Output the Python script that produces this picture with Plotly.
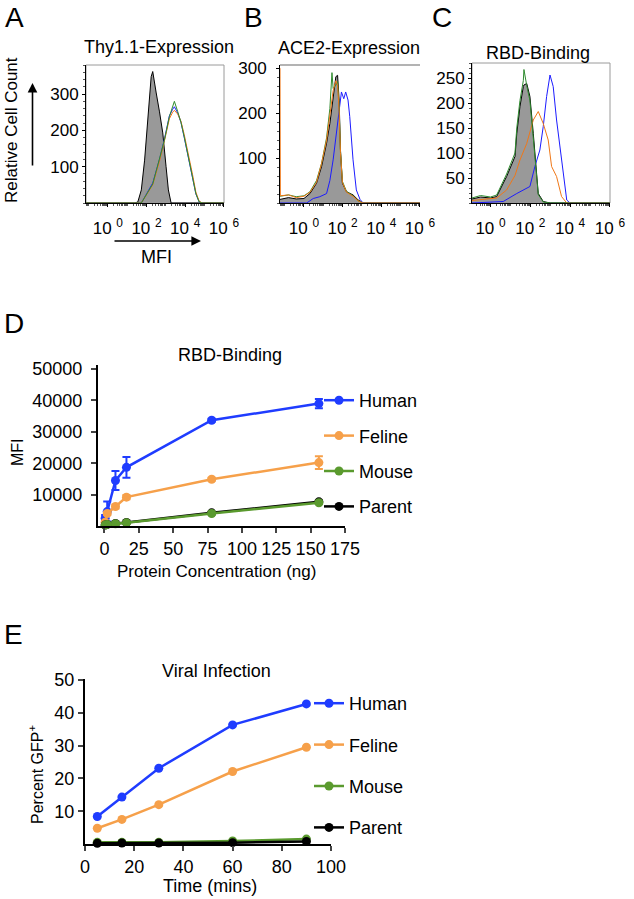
import math
import plotly.graph_objects as go

FONT = "Liberation Sans, Arial, Helvetica, sans-serif"
W, H = 634, 899


def fx(x):
    return x / W


def fy(y):
    return 1 - y / H


# ---------------- colours ----------------
H_BLUE = "#1c1cff"
H_ORANGE = "#f07818"
H_GREEN = "#2e8b2e"
H_FILL = "#999999"
L_BLUE = "#1f3cff"
L_ORANGE = "#f6a04a"
L_GREEN = "#5a9a2e"

# ---------------- Panel A : Thy1.1 expression (log10 MFI vs count) ----------------
A_parent_logmfi = [-1.13, 1.40, 1.55, 1.73, 1.90, 2.07, 2.24, 2.32, 2.40, 2.50, 2.67, 2.84, 3.01, 3.13, 3.27, 6.0]
A_parent_count = [0, 0, 3, 36, 118, 238, 348, 362, 330, 303, 251, 193, 100, 36, 0, 0]
A_logmfi = [-1.13, 1.73, 2.32, 2.67, 2.92, 3.18, 3.35, 3.44, 3.61, 3.78, 3.95, 4.21, 4.38, 4.55, 4.72, 4.89, 6.0]
A_human = [0, 0, 55, 120, 175, 240, 258, 265, 248, 222, 180, 115, 70, 25, 3, 0, 0]
A_feline = [0, 0, 50, 115, 170, 232, 250, 255, 245, 225, 188, 125, 78, 30, 5, 0, 0]
A_mouse = [0, 0, 52, 118, 172, 238, 270, 280, 252, 222, 182, 118, 72, 26, 3, 0, 0]

# ---------------- Panel B : ACE2 expression ----------------
B_logmfi = [-1.24, -0.8, -0.4, 0.0, 0.31, 0.65, 0.91, 1.17, 1.34, 1.45, 1.51, 1.65, 1.74, 1.82, 1.89, 1.99, 2.2, 2.54, 2.8, 3.06, 6.0]
B_parent = [8, 12, 9, 10, 21, 44, 81, 133, 177, 215, 244, 281, 284, 229, 118, 44, 25, 18, 7, 0, 0]
B_mouse = [15, 18, 14, 16, 25, 50, 88, 145, 210, 290, 255, 262, 270, 215, 115, 48, 26, 16, 5, 0, 0]
B_feline_logmfi = [-1.24, -1.22, -0.8, -0.4, 0.0, 0.31, 0.65, 0.91, 1.17, 1.34, 1.45, 1.51, 1.65, 1.74, 1.82, 1.89, 1.99, 2.2, 2.54, 2.8, 3.06, 6.0]
B_feline = [300, 16, 18, 12, 15, 24, 46, 88, 140, 200, 235, 250, 272, 262, 205, 112, 46, 24, 15, 5, 0, 0]
B_human_logmfi = [-1.24, 0.14, 0.48, 0.82, 1.17, 1.34, 1.51, 1.69, 1.86, 1.94, 2.06, 2.16, 2.28, 2.37, 2.54, 2.71, 2.9, 3.06, 6.0]
B_human = [0, 0, 10, 14, 21, 50, 96, 162, 221, 247, 232, 247, 229, 192, 96, 29, 8, 0, 0]

# ---------------- Panel C : RBD binding histogram ----------------
C_logmfi = [-0.93, -0.5, 0.0, 0.31, 0.81, 1.23, 1.32, 1.48, 1.65, 1.68, 1.82, 1.98, 2.15, 2.28, 2.40, 2.65, 3.0, 6.0]
C_parent = [8, 12, 10, 13, 53, 93, 139, 193, 233, 236, 239, 213, 139, 73, 19, 3, 0, 0]
C_mouse = [10, 15, 12, 16, 58, 100, 150, 205, 245, 267, 235, 205, 130, 65, 17, 2, 0, 0]
C_feline_logmfi = [-0.93, 0.31, 0.81, 1.23, 1.48, 1.82, 2.15, 2.40, 2.65, 2.90, 3.07, 3.32, 3.57, 3.83, 6.0]
C_feline = [5, 10, 26, 55, 86, 119, 166, 183, 159, 126, 73, 53, 13, 0, 0]
C_human_logmfi = [-0.93, 0.64, 1.32, 1.98, 2.23, 2.48, 2.65, 2.82, 2.99, 3.15, 3.32, 3.49, 3.65, 3.83, 3.99, 6.0]
C_human = [0, 3, 19, 33, 73, 106, 153, 213, 256, 233, 166, 113, 53, 6, 0, 0]

# ---------------- Panel D : RBD binding titration ----------------
D_conc_ng = [0.5, 2, 8, 16, 78, 156]
D_human = [2500, 4600, 14500, 18700, 33700, 39000]
D_human_err = [1000, 3200, 3000, 3300, 500, 1500]
D_feline = [1200, 4000, 6200, 9200, 14900, 20200]
D_feline_err = [300, 500, 600, 700, 500, 2000]
D_mouse = [300, 500, 700, 1000, 4000, 7400]
D_mouse_err = [100, 100, 100, 150, 300, 400]
D_parent = [300, 500, 800, 1100, 4200, 7700]
D_parent_err = [100, 100, 100, 150, 300, 400]
D_yticks = [10000, 20000, 30000, 40000, 50000]
D_xticks = [0, 25, 50, 75, 100, 125, 150, 175]

# ---------------- Panel E : viral infection ----------------
E_time_min = [5, 15, 30, 60, 90]
E_human = [8.4, 14.3, 23.1, 36.3, 42.7]
E_feline = [4.8, 7.5, 12.0, 22.1, 29.5]
E_mouse = [0.5, 0.5, 0.5, 0.9, 1.5]
E_parent = [0.2, 0.3, 0.3, 0.4, 0.8]
E_yticks = [10, 20, 30, 40, 50]
E_xticks = [0, 20, 40, 60, 80, 100]

# tick labels
HIST_TICKVALS = [0, 2, 4, 6]
HIST_TICKTEXT = ["10 <sup>0</sup>", "10 <sup>2</sup>", "10 <sup>4</sup>", "10 <sup>6</sup>"]
HIST_MINOR = [d + math.log10(k) for d in range(-2, 6) for k in range(1, 10) if not (k == 1 and d % 2 == 0)]

fig = go.Figure()


def hist_panel(n, parent_x, parent_y, curves):
    xa = "x" if n == 1 else f"x{n}"
    ya = "y" if n == 1 else f"y{n}"
    fig.add_trace(go.Scatter(x=parent_x, y=parent_y, mode="lines", fill="tozeroy",
                             fillcolor=H_FILL, line=dict(color="black", width=1),
                             xaxis=xa, yaxis=ya, showlegend=False, hoverinfo="skip"))
    for xs, ys, col in curves:
        fig.add_trace(go.Scatter(x=xs, y=ys, mode="lines", line=dict(color=col, width=1),
                                 xaxis=xa, yaxis=ya, showlegend=False, hoverinfo="skip"))


hist_panel(1, A_parent_logmfi, A_parent_count,
           [(A_logmfi, A_human, H_BLUE), (A_logmfi, A_feline, H_ORANGE), (A_logmfi, A_mouse, H_GREEN)])
hist_panel(2, B_logmfi, B_parent,
           [(B_human_logmfi, B_human, H_BLUE), (B_logmfi, B_mouse, H_GREEN), (B_feline_logmfi, B_feline, H_ORANGE)])
hist_panel(3, C_logmfi, C_parent,
           [(C_human_logmfi, C_human, H_BLUE), (C_feline_logmfi, C_feline, H_ORANGE), (C_logmfi, C_mouse, H_GREEN)])

d_series = [("Human", D_human, D_human_err, L_BLUE, 1),
            ("Feline", D_feline, D_feline_err, L_ORANGE, 2),
            ("Parent", D_parent, D_parent_err, "black", 4),
            ("Mouse", D_mouse, D_mouse_err, L_GREEN, 3)]
for name, vals, err, col, rank in d_series:
    fig.add_trace(go.Scatter(
        x=D_conc_ng, y=vals, name=name, mode="lines+markers",
        line=dict(color=col, width=2.5), marker=dict(color=col, size=9),
        error_y=dict(type="data", array=err, visible=True, color=col, thickness=2, width=4),
        xaxis="x4", yaxis="y4", legend="legend", legendgroup="d" + name,
        legendrank=rank, cliponaxis=False))

e_series = [("Human", E_human, L_BLUE, 1),
            ("Feline", E_feline, L_ORANGE, 2),
            ("Mouse", E_mouse, L_GREEN, 3),
            ("Parent", E_parent, "black", 4)]
for name, vals, col, rank in e_series:
    fig.add_trace(go.Scatter(
        x=E_time_min, y=vals, name=name, mode="lines+markers",
        line=dict(color=col, width=2.5), marker=dict(color=col, size=9),
        xaxis="x5", yaxis="y5", legend="legend2", legendgroup="e" + name,
        legendrank=rank, cliponaxis=False))

tickfont = dict(family=FONT, size=17, color="black")
bigtick = dict(family=FONT, size=18, color="black")


def hist_x(domain, rng, anchor):
    return dict(domain=domain, range=rng, anchor=anchor, showgrid=False, zeroline=False,
                showline=True, linecolor="black", linewidth=1, automargin=False,
                tickmode="array", tickvals=HIST_TICKVALS, ticktext=HIST_TICKTEXT,
                ticks="outside", ticklen=3, tickcolor="black", tickfont=tickfont,
                ticklabelstandoff=7,
                minor=dict(tickmode="array", tickvals=HIST_MINOR, ticks="outside", ticklen=2,
                           tickcolor="#555555"))


def hist_y(domain, rng, anchor, tv, mdt, standoff):
    return dict(domain=domain, range=rng, anchor=anchor, showgrid=False, zeroline=False,
                showline=True, linecolor="black", linewidth=1, automargin=False,
                tickmode="array", tickvals=tv, ticks="outside", ticklen=3, tickcolor="black",
                tickfont=tickfont, ticklabelstandoff=standoff,
                minor=dict(dtick=mdt, ticks="outside", ticklen=2, tickcolor="#555555"))


ydomH = [fy(203), fy(65)]
fig.update_layout(
    width=W, height=H, margin=dict(l=0, r=0, t=0, b=0, pad=0, autoexpand=False),
    paper_bgcolor="white", plot_bgcolor="white",
    font=dict(family=FONT, color="black"),
    xaxis=hist_x([fx(86), fx(224)], [-1.13, 6.005], "y"),
    yaxis=hist_y(ydomH, [0, 380], "x", [100, 200, 300], 20, 0),
    xaxis2=hist_x([fx(280), fx(420)], [-1.24, 6.005], "y2"),
    yaxis2=hist_y(ydomH, [0, 307], "x2", [100, 200, 300], 20, 6),
    xaxis3=hist_x([fx(472), fx(610)], [-0.93, 6.005], "y3"),
    yaxis3=hist_y([fy(203), fy(63)], [0, 280], "x3", [50, 100, 150, 200, 250], 10, 0),
    xaxis4=dict(domain=[fx(98), fx(345)], range=[-4.7, 175], anchor="y4", automargin=False,
                showgrid=False, zeroline=False, showline=True, linecolor="black", linewidth=2,
                tickmode="array", tickvals=D_xticks, ticktext=[str(v) for v in D_xticks],
                ticks="outside", ticklen=5, tickwidth=2, tickfont=bigtick),
    yaxis4=dict(domain=[fy(526), fy(365)], range=[0, 51300], anchor="x4", automargin=False,
                showgrid=False, zeroline=False, showline=True, linecolor="black", linewidth=2,
                tickmode="array", tickvals=D_yticks, ticktext=[str(v) for v in D_yticks],
                ticks="outside", ticklen=5, tickwidth=2, tickfont=bigtick, ticklabelstandoff=5),
    xaxis5=dict(domain=[fx(85), fx(331)], range=[0, 100], anchor="y5", automargin=False,
                showgrid=False, zeroline=False, showline=True, linecolor="black", linewidth=2,
                tickmode="array", tickvals=E_xticks, ticktext=[str(v) for v in E_xticks],
                ticks="outside", ticklen=5, tickwidth=2, tickfont=bigtick),
    yaxis5=dict(domain=[fy(844), fy(679)], range=[0, 50.3], anchor="x5", automargin=False,
                showgrid=False, zeroline=False, showline=True, linecolor="black", linewidth=2,
                tickmode="array", tickvals=E_yticks, ticktext=[str(v) for v in E_yticks],
                ticks="outside", ticklen=5, tickwidth=2, tickfont=bigtick),
    legend=dict(x=fx(319), y=fy(382), xanchor="left", yanchor="top",
                font=dict(family=FONT, size=18), traceorder="grouped", tracegroupgap=9,
                bgcolor="rgba(0,0,0,0)", itemwidth=30),
    legend2=dict(x=fx(309), y=fy(685), xanchor="left", yanchor="top",
                 font=dict(family=FONT, size=18), traceorder="grouped", tracegroupgap=15,
                 bgcolor="rgba(0,0,0,0)", itemwidth=30),
)

for xr, yr in [("x", "y"), ("x3", "y3")]:
    fig.add_shape(type="rect", xref=f"{xr} domain", yref=f"{yr} domain", x0=0, x1=1, y0=0, y1=1,
                  line=dict(color="#9a9a9a", width=1), layer="below")
fig.add_shape(type="line", xref="x2 domain", yref="y2 domain", x0=0, x1=1, y0=1, y1=1,
              line=dict(color="#9a9a9a", width=1.5), layer="below")


def txt(x, y, s, size, angle=0, xanchor="center"):
    fig.add_annotation(x=fx(x), y=fy(y), xref="paper", yref="paper", text=s, showarrow=False,
                       font=dict(family=FONT, size=size, color="black"), textangle=angle,
                       xanchor=xanchor, yanchor="middle")


txt(14, 18, "A", 28)
txt(253, 18, "B", 28)
txt(442, 18, "C", 28)
txt(14, 323, "D", 28)
txt(13, 634, "E", 28)

txt(159, 47, "Thy1.1-Expression", 18)
txt(349, 48, "ACE2-Expression", 18)
txt(538, 53, "RBD-Binding", 18)
txt(230, 355, "RBD-Binding", 18)
txt(216, 671, "Viral Infection", 18)

txt(11, 130, "Relative Cell Count", 17, angle=-90)
txt(156, 257, "MFI", 18)
txt(18, 452, "MFI", 16, angle=-90)
txt(216, 571, "Protein Concentration (ng)", 17)
txt(36, 775, "Percent GFP<sup>+</sup>", 16, angle=-90)
txt(210, 886, "Time (mins)", 18)

fig.add_annotation(x=fx(32.5), y=fy(83), xref="paper", yref="paper", ax=0, ay=84,
                   showarrow=True, arrowhead=2, arrowsize=1.2, arrowwidth=1.6, arrowcolor="black", text="")
fig.add_annotation(x=fx(201), y=fy(241), xref="paper", yref="paper", ax=-88, ay=0,
                   showarrow=True, arrowhead=2, arrowsize=1.2, arrowwidth=1.6, arrowcolor="black", text="")

fig.write_html("out.html", config={"displayModeBar": False},
               post_script="document.body.style.margin='0';document.body.style.overflow='hidden';")
